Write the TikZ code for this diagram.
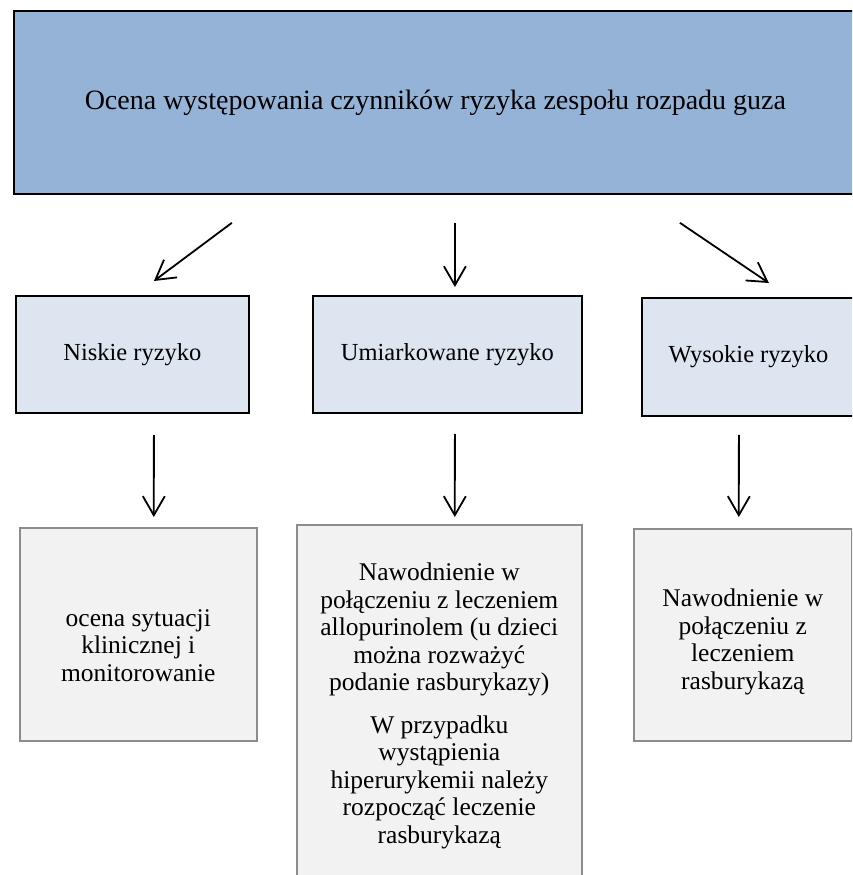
\documentclass[tikz,border=0pt]{standalone}
\usepackage{fontspec}
\setmainfont{Liberation Serif}
\usetikzlibrary{arrows.meta}
\definecolor{topblue}{HTML}{95B3D7}
\definecolor{midblue}{HTML}{DCE5F0}
\definecolor{lowgray}{HTML}{F2F2F2}
\definecolor{lowedge}{HTML}{8C8C8C}

\tikzset{
  riskbox/.style={draw=black, line width=1.8pt, fill=midblue, anchor=north west,
    align=center, font=\fontsize{24.5}{28}\selectfont},
  carebox/.style={draw=lowedge, line width=1.6pt, fill=lowgray, anchor=north west},
  caretext/.style={align=center, font=\fontsize{25.5}{27.5}\selectfont},
  arrow/.style={line width=1.8pt, -{Straight Barb[length=19pt,width=22pt]}}
}

\begin{document}
\begin{tikzpicture}[x=1pt,y=-1pt]
    % Page frame
    \clip (0,0) rectangle (852,875);
    \fill[white] (0,0) rectangle (852,875);

    % Draw the assessment box
    \node[draw=black, line width=1.8pt, fill=topblue, anchor=north west,
      minimum width=843pt, minimum height=183pt, font=\fontsize{28}{32}\selectfont]
      (assess) at (13,10) {Ocena występowania czynników ryzyka zespołu rozpadu guza};

    % Draw the risk levels
    \node[riskbox, minimum width=233pt, minimum height=117pt] (low) at (15,295) {Niskie ryzyko};
    \node[riskbox, minimum width=269pt, minimum height=117pt] (mid) at (312,295) {Umiarkowane ryzyko};
    \node[riskbox, minimum width=213pt, minimum height=118pt] (high) at (641,297) {Wysokie ryzyko};

    % Draw the management boxes
    \node[carebox, minimum width=237pt, minimum height=213pt] (lowcare) at (19,527) {};
    \node[carebox, minimum width=285pt, minimum height=362pt] (midcare) at (296,524) {};
    \node[carebox, minimum width=218pt, minimum height=212pt] (highcare) at (633,528) {};

    % Text of the management boxes
    \node[caretext, yshift=-11pt] (lowtext) at (lowcare.center)
      {ocena sytuacji\\klinicznej i\\monitorowanie};
    \node[caretext] (midtext) at (midcare.center)
      {Nawodnienie w\\połączeniu z leczeniem\\allopurinolem (u dzieci\\można rozważyć\\podanie rasburykazy)\\[15pt]
       W przypadku\\wystąpienia\\hiperurykemii należy\\rozpocząć leczenie\\rasburykazą};
    \node[caretext, yshift=-7pt] (hightext) at (highcare.center)
      {Nawodnienie w\\połączeniu z\\leczeniem\\rasburykazą};

    % Arrows from the assessment
    \draw[arrow] ([shift={(-203.5,28)}]assess.south) -- ([shift={(21.5,-14)}]low.north);
    \draw[arrow] ([shift={(19.5,28)}]assess.south) -- ([shift={(7.5,-8)}]mid.north);
    \draw[arrow] ([shift={(244.5,28)}]assess.south) -- ([shift={(20.5,-14)}]high.north);

    % Arrows to the management
    \draw[arrow] ([shift={(21.5,21)}]low.south) -- ([shift={(15.5,-10)}]lowcare.north);
    \draw[arrow] ([shift={(7.5,20)}]mid.south) -- ([shift={(15.5,-7)}]midcare.north);
    \draw[arrow] ([shift={(-9.5,18)}]high.south) -- ([shift={(-4,-11)}]highcare.north);
\end{tikzpicture}
\end{document}
